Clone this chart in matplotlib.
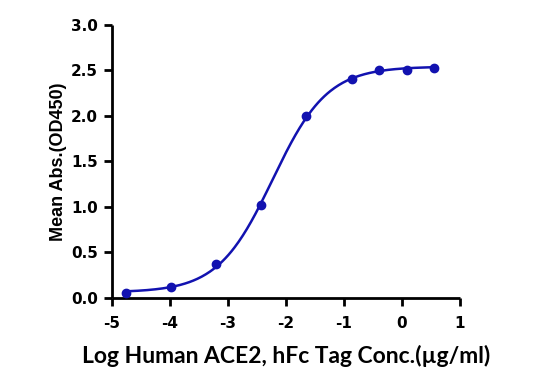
import numpy as np
import matplotlib
matplotlib.use('Agg')
import matplotlib.pyplot as plt

plt.rcParams['axes.unicode_minus'] = False

# data
log_conc = [-4.75, -3.98, -3.20, -2.43, -1.65, -0.87, -0.40, 0.08, 0.56]
mean_abs = [0.05, 0.12, 0.37, 1.02, 2.00, 2.41, 2.50, 2.51, 2.53]
x_ticks = [-5, -4, -3, -2, -1, 0, 1]
y_ticks = [0.0, 0.5, 1.0, 1.5, 2.0, 2.5, 3.0]

blue = '#1212b0'

x = np.array(log_conc)
y = np.array(mean_abs)


def fit_4pl(x, y):
    # grid search over logEC50 and hill, bottom/top by linear least squares
    best = None
    for ec in np.linspace(-4, 0, 401):
        for h in np.linspace(0.3, 3, 271):
            s = 1.0 / (1.0 + 10 ** ((ec - x) * h))
            A = np.column_stack([1 - s, s])
            coef, *_ = np.linalg.lstsq(A, y, rcond=None)
            err = np.sum((A @ coef - y) ** 2)
            if best is None or err < best[0]:
                best = (err, coef[0], coef[1], ec, h)
    return best[1:]


bottom, top, ec50, hill = fit_4pl(x, y)
xs = np.linspace(x.min(), x.max(), 300)
ys = bottom + (top - bottom) / (1 + 10 ** ((ec50 - xs) * hill))

fig = plt.figure(figsize=(5.5, 3.9), dpi=100)
ax = fig.add_axes([0.2036, 0.2367, 0.6327, 0.6993])

ax.plot(xs, ys, color=blue, lw=1.8, zorder=2)
ax.plot(x, y, 'o', color=blue, ms=6, zorder=3)

ax.set_xlim(-5, 1)
ax.set_ylim(0, 3)
ax.set_xticks(x_ticks)
ax.set_xticklabels([str(v) for v in x_ticks])
ax.set_yticks(y_ticks)
ax.set_yticklabels(['%.1f' % v for v in y_ticks])

for side in ['top', 'right']:
    ax.spines[side].set_visible(False)
for side in ['left', 'bottom']:
    ax.spines[side].set_linewidth(2)
    ax.spines[side].set_capstyle('butt')

ax.tick_params(direction='out', length=6, width=2)
ax.tick_params(axis='x', pad=7)
ax.tick_params(axis='y', pad=4)
for lab in ax.get_xticklabels() + ax.get_yticklabels():
    lab.set_fontweight('bold')
    lab.set_fontsize(11)
    lab.set_family('DejaVu Sans')

ax.set_xlabel('Log Human ACE2, hFc Tag Conc.(\u00b5g/ml)', family='Lato',
              fontweight='bold', fontsize=16.5, labelpad=10)
ax.set_ylabel('Mean Abs.(OD450)', family='Liberation Sans',
              fontweight='bold', fontsize=13, labelpad=3)

fig.savefig('out.png', dpi=100)
